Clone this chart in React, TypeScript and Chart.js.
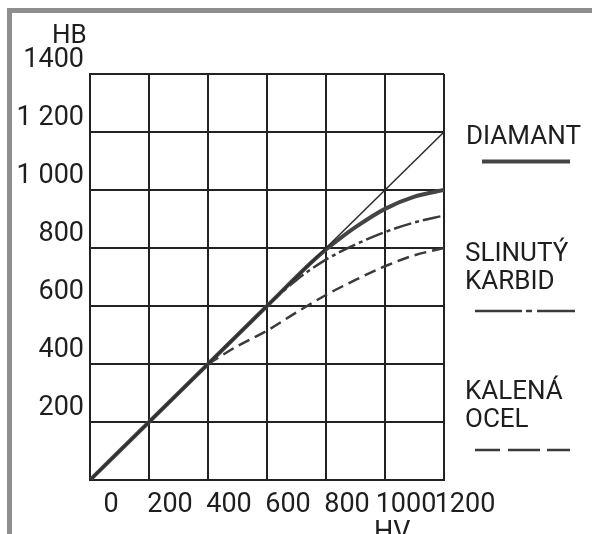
import React, { useEffect, useRef } from "react";
import { Chart, registerables } from "chart.js";

Chart.register(...registerables);

// ---- data ----
const xTickLabels = ["0", "200", "400", "600", "800", "1000", "1200"];
const yTickLabels = ["", "200", "400", "600", "800", "1 000", "1 200", "1400"];

const diagonalHV = [0, 1200];
const diagonalHB = [0, 1200];

const diamantHV = [0, 200, 400, 600, 750, 800, 850, 900, 1000, 1100, 1200];
const diamantHB = [0, 200, 400, 600, 750, 795, 835, 872, 935, 977, 1000];

const karbidHV = [600, 700, 800, 900, 1000, 1100, 1200];
const karbidHB = [600, 690, 760, 812, 855, 888, 912];

const ocelHV = [400, 500, 600, 700, 800, 900, 1000, 1100, 1200];
const ocelHB = [400, 462, 515, 578, 638, 690, 737, 775, 800];

const xAxisTitle = "HV";
const yAxisTitle = "HB";
const legendDiamant = ["DIAMANT"];
const legendKarbid = ["SLINUTÝ", "KARBID"];
const legendOcel = ["KALENÁ", "OCEL"];

const pts = (xs: number[], ys: number[]) => xs.map((x, i) => ({ x, y: ys[i] }));

const FONT = "Roboto, 'Liberation Sans', 'DejaVu Sans', sans-serif";
const INK = "#1e1e1e";
const LINE = "#3a3a3a";

export default function App() {
  const ref = useRef<HTMLCanvasElement | null>(null);

  useEffect(() => {
    if (!ref.current) return;
    const chart = new Chart(ref.current, {
      type: "line",
      data: {
        datasets: [
          {
            data: pts(diagonalHV, diagonalHB),
            borderColor: "#2a2a2a",
            borderWidth: 1.5,
            pointRadius: 0,
            fill: false,
          },
          {
            data: pts(diamantHV, diamantHB),
            borderColor: "#444444",
            borderWidth: 4,
            pointRadius: 0,
            cubicInterpolationMode: "monotone",
            fill: false,
          },
          {
            data: pts(karbidHV, karbidHB),
            borderColor: LINE,
            borderWidth: 2.5,
            borderDash: [18, 4, 4, 4],
            pointRadius: 0,
            cubicInterpolationMode: "monotone",
            fill: false,
          },
          {
            data: pts(ocelHV, ocelHB),
            borderColor: LINE,
            borderWidth: 2.5,
            borderDash: [12, 6],
            pointRadius: 0,
            cubicInterpolationMode: "monotone",
            fill: false,
          },
        ],
      },
      options: {
        animation: false,
        responsive: false,
        devicePixelRatio: 1,
        layout: { padding: { left: 0, right: 148, top: 74, bottom: 0 } },
        plugins: {
          legend: { display: false },
          tooltip: { enabled: false },
          title: { display: false },
        },
        scales: {
          x: {
            type: "linear",
            min: 0,
            max: 1200,
            afterFit: (s: any) => {
              s.height = 54;
            },
            ticks: {
              stepSize: 200,
              labelOffset: 21,
              padding: 9,
              maxRotation: 0,
              autoSkip: false,
              color: INK,
              font: { family: FONT, size: 27 },
              callback: (_v: any, i: number) => xTickLabels[i],
            },
            grid: { color: "#222", lineWidth: 2, drawTicks: false },
            border: { color: "#222", width: 2 },
          },
          y: {
            type: "linear",
            min: 0,
            max: 1400,
            afterFit: (s: any) => {
              s.width = 90;
            },
            ticks: {
              stepSize: 200,
              labelOffset: -14,
              padding: 6,
              autoSkip: false,
              color: INK,
              font: { family: FONT, size: 27 },
              callback: (_v: any, i: number) => yTickLabels[i],
            },
            grid: { color: "#222", lineWidth: 2, drawTicks: false },
            border: { color: "#222", width: 2 },
          },
        },
      },
    });
    return () => chart.destroy();
  }, []);

  const textStyle = (left: number, top: number, size: number): React.CSSProperties => ({
    position: "absolute",
    left,
    top,
    fontFamily: FONT,
    fontSize: size,
    lineHeight: `${size}px`,
    color: INK,
    whiteSpace: "nowrap",
  });

  return (
    <div
      style={{
        position: "absolute",
        left: 0,
        top: 0,
        width: 592,
        height: 534,
        overflow: "hidden",
        background: "#fff",
      }}
    >
      <canvas ref={ref} width={592} height={534} style={{ position: "absolute", left: 0, top: 0 }} />
      {/* scan frame */}
      <div
        style={{
          position: "absolute",
          left: 7,
          top: 8,
          width: 600,
          height: 600,
          borderTop: "5px solid #8e8e8e",
          borderLeft: "5px solid #8e8e8e",
        }}
      />
      {/* axis titles */}
      <div style={{ ...textStyle(52, 21, 26) }}>{yAxisTitle}</div>
      <div style={{ ...textStyle(374, 518, 27) }}>{xAxisTitle}</div>
      {/* legend */}
      <div style={textStyle(466, 122, 26)}>{legendDiamant[0]}</div>
      <div style={textStyle(465, 239, 26)}>{legendKarbid[0]}</div>
      <div style={textStyle(465, 267, 26)}>{legendKarbid[1]}</div>
      <div style={textStyle(465, 377, 26)}>{legendOcel[0]}</div>
      <div style={textStyle(465, 405, 26)}>{legendOcel[1]}</div>
      <svg
        width={592}
        height={534}
        style={{ position: "absolute", left: 0, top: 0, pointerEvents: "none" }}
      >
        <line x1={482} y1={161.5} x2={570} y2={161.5} stroke="#444" strokeWidth={4} />
        <line
          x1={475}
          y1={311}
          x2={575}
          y2={311}
          stroke={LINE}
          strokeWidth={2.5}
          strokeDasharray="47 4 6 5 38"
        />
        <line
          x1={475}
          y1={450}
          x2={570}
          y2={450}
          stroke={LINE}
          strokeWidth={2.5}
          strokeDasharray="25 8 32 7 23"
        />
      </svg>
    </div>
  );
}
